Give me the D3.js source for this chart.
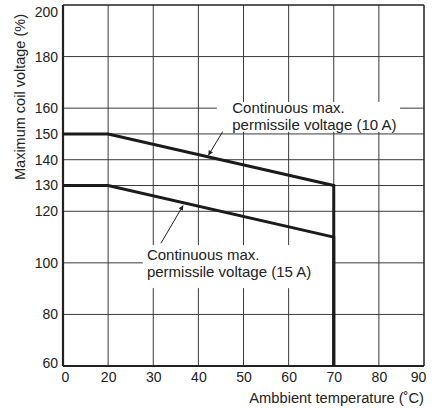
<!DOCTYPE html>
<html>
<head>
<meta charset="utf-8">
<script src="https://cdn.jsdelivr.net/npm/d3@7"></script>
<style>
  html, body { margin: 0; padding: 0; background: #fff; }
  svg { display: block; font-family: "Liberation Sans", Arial, Helvetica, sans-serif; }
</style>
</head>
<body>
<svg id="chart" width="438" height="408"></svg>
<script>
// ---- Data ----
const xTicks = [0, 20, 30, 40, 50, 60, 70, 80, 90];
const yTicks = [60, 80, 100, 120, 130, 140, 150, 160, 180, 200];
const series10A = [[0, 150], [20, 150], [70, 130], [70, 60]];
const series15A = [[0, 130], [20, 130], [70, 110], [70, 60]];
const xLabel = "Ambbient temperature (\u02DAC)";
const yLabel = "Maximum coil voltage (%)";
const label10A = ["Continuous max.", "permissile voltage (10 A)"];
const label15A = ["Continuous max.", "permissile voltage (15 A)"];

// ---- Layout ----
const W = 438, H = 408;
const margin = { left: 63, right: 14, top: 5, bottom: 42 };
const iw = W - margin.left - margin.right;
const ih = H - margin.top - margin.bottom;

const svg = d3.select("#chart");
const g = svg.append("g").attr("transform", `translate(${margin.left},${margin.top})`);

// 0-20 occupies the same width as one 10-degree step
const step = iw / 8;
const x = d3.scaleLinear().domain([0, 20, 90]).range([0, step, iw]);
const y = d3.scaleLinear().domain([60, 200]).range([ih, 0]);

// grid
g.append("g").selectAll("line").data(xTicks.filter(d => d > 0 && d < 90)).join("line")
  .attr("x1", d => x(d)).attr("x2", d => x(d)).attr("y1", 0).attr("y2", ih)
  .attr("stroke", "#3a3a3a").attr("stroke-width", 1);
g.append("g").selectAll("line").data(yTicks.filter(d => d > 60 && d < 200)).join("line")
  .attr("x1", 0).attr("x2", iw).attr("y1", d => y(d)).attr("y2", d => y(d))
  .attr("stroke", "#3a3a3a").attr("stroke-width", 1);

// axes (labels only)
const xAxis = d3.axisBottom(x).tickValues(xTicks).tickSize(0).tickPadding(6).tickFormat(d3.format("d"));
const yAxis = d3.axisLeft(y).tickValues(yTicks).tickSize(0).tickPadding(5).tickFormat(d3.format("d"));
const gx = g.append("g").attr("transform", `translate(0,${ih})`).call(xAxis);
const gy = g.append("g").call(yAxis);
[gx, gy].forEach(a => {
  a.select(".domain").remove();
  a.selectAll("text").attr("fill", "#222").style("font-size", "14px")
    .style("font-family", '"Liberation Sans", Arial, sans-serif');
});
// nudge edge labels inside the picture like the reference
gy.selectAll(".tick").filter(d => d === 200).select("text").attr("dy", "0.32em").attr("y", 7);
gy.selectAll(".tick").filter(d => d === 60).select("text").attr("y", -3);
gx.selectAll(".tick").filter(d => d === 0).select("text").attr("x", 2);
gx.selectAll(".tick").filter(d => d === 90).select("text").attr("x", -6);

// annotation label backgrounds
function labelBox(x0, x1, y0, y1) {
  g.append("rect").attr("x", x(x0)).attr("y", y(y0))
    .attr("width", x(x1) - x(x0)).attr("height", y(y1) - y(y0)).attr("fill", "#fff");
}
labelBox(44.1, 84.7, 162.4, 150.8);
labelBox(27.7, 69.8, 106.9, 90.2);

// frame
g.append("line").attr("x1", 0).attr("x2", iw).attr("y1", 0).attr("y2", 0).attr("stroke", "#222").attr("stroke-width", 1.5);
g.append("line").attr("x1", iw).attr("x2", iw).attr("y1", 0).attr("y2", ih).attr("stroke", "#222").attr("stroke-width", 1.5);
g.append("line").attr("x1", 0).attr("x2", iw).attr("y1", ih).attr("y2", ih).attr("stroke", "#222").attr("stroke-width", 2.2);
g.append("line").attr("x1", 0).attr("x2", 0).attr("y1", 0).attr("y2", ih).attr("stroke", "#222").attr("stroke-width", 2.2);

// data lines
const line = d3.line().x(d => x(d[0])).y(d => y(d[1]));
[series10A, series15A].forEach(s => {
  g.append("path").datum(s).attr("d", line).attr("fill", "none")
    .attr("stroke", "#1b1b1b").attr("stroke-width", 3).attr("stroke-linejoin", "miter");
});

// annotation text
function labelText(lines, lx, ly) {
  const t = g.append("text").attr("x", x(lx)).attr("y", y(ly))
    .attr("fill", "#222").style("font-size", "15px");
  lines.forEach((s, i) => t.append("tspan").attr("x", x(lx)).attr("dy", i === 0 ? 0 : 17).text(s));
}
labelText(label10A, 47.5, 158.1);
labelText(label15A, 28.6, 101.1);

// arrows
svg.append("defs").append("marker").attr("id", "ah").attr("viewBox", "0 0 10 10")
  .attr("refX", 9).attr("refY", 5).attr("markerWidth", 7).attr("markerHeight", 5)
  .attr("markerUnits", "userSpaceOnUse").attr("orient", "auto")
  .append("path").attr("d", "M0,0 L10,5 L0,10 Z").attr("fill", "#222");
function arrow(x0, y0, x1, y1) {
  g.append("line").attr("x1", x(x0)).attr("y1", y(y0)).attr("x2", x(x1)).attr("y2", y(y1))
    .attr("stroke", "#222").attr("stroke-width", 1).attr("marker-end", "url(#ah)");
}
arrow(45.4, 150.9, 42.25, 141.8);
arrow(31.7, 107.6, 36.6, 122.2);

// axis titles
g.append("text").attr("x", iw).attr("y", ih + 37).attr("text-anchor", "end")
  .attr("fill", "#222").style("font-size", "14.7px").text(xLabel);
svg.append("text").attr("transform", `translate(25,97) rotate(-90)`).attr("text-anchor", "middle")
  .attr("fill", "#222").style("font-size", "14.5px").text(yLabel);
</script>
</body>
</html>
